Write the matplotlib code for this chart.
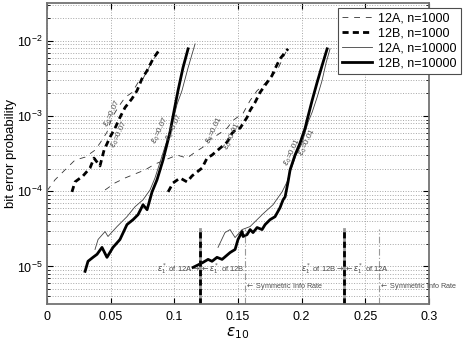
import numpy as np
import matplotlib
matplotlib.use("Agg")
import matplotlib.pyplot as plt

plt.rcParams['font.family'] = ['Liberation Sans', 'DejaVu Sans']
plt.rcParams['mathtext.fontset'] = 'dejavusans'

""" Data (read off the picture) """
# eps0 = 0.07 group
l_a1000_x = [0, 0.0063, 0.0141, 0.0220, 0.0299, 0.0377, 0.0416, 0.0471, 0.0511, 0.0558,
             0.0613, 0.0668, 0.0715, 0.0754, 0.0809, 0.0864, 0.0888]
l_a1000_y = [1.01e-4, 1.42e-4, 1.92e-4, 2.60e-4, 2.84e-4, 3.52e-4, 4.36e-4, 6.10e-4, 9.6e-4, 1.30e-3,
             1.77e-3, 2.06e-3, 2.79e-3, 3.15e-3, 4.68e-3, 6.73e-3, 7.84e-3]

l_b1000_x = [0.0196, 0.0220, 0.0283, 0.0338, 0.0369, 0.0393, 0.0416, 0.0448, 0.0495, 0.0534,
             0.0573, 0.0613, 0.0668, 0.0707, 0.0746, 0.0786, 0.0833, 0.0888]
l_b1000_y = [9.8e-5, 1.33e-4, 1.60e-4, 2.04e-4, 2.76e-4, 2.44e-4, 2.17e-4, 3.52e-4, 5.24e-4, 6.89e-4,
             9.6e-4, 1.30e-3, 1.71e-3, 2.18e-3, 3.15e-3, 4.02e-3, 5.78e-3, 7.84e-3]

l_a10000_x = [0.0377, 0.0401, 0.0456, 0.0479, 0.0550, 0.0628, 0.0691, 0.0754, 0.0809, 0.0848,
              0.0888, 0.0943, 0.0990, 0.1021, 0.1060, 0.1108, 0.1163]
l_a10000_y = [1.68e-5, 2.28e-5, 2.91e-5, 2.50e-5, 3.39e-5, 4.59e-5, 6.22e-5, 7.69e-5, 1.04e-4, 1.50e-4,
              2.44e-4, 4.78e-4, 8.77e-4, 1.43e-3, 2.18e-3, 4.40e-3, 9.13e-3]

l_b10000_x = [0.0299, 0.0322, 0.0361, 0.0393, 0.0432, 0.0471, 0.0518, 0.0573, 0.0628, 0.0676,
              0.0715, 0.0754, 0.0786, 0.0825, 0.0864, 0.0911, 0.0966, 0.1006, 0.1029, 0.1068, 0.1108]
l_b10000_y = [8.6e-6, 1.17e-5, 1.32e-5, 1.45e-5, 1.79e-5, 1.32e-5, 1.79e-5, 2.28e-5, 3.60e-5, 4.19e-5,
              4.88e-5, 6.61e-5, 5.68e-5, 9.8e-5, 1.42e-4, 2.60e-4, 6.10e-4, 1.38e-3, 2.18e-3, 4.40e-3, 7.84e-3]

# eps0 = 0.01 group
r_a1000_x = [0.0456, 0.0534, 0.0613, 0.0691, 0.0770, 0.0848, 0.0927, 0.1021, 0.1100, 0.1163,
             0.1225, 0.1265, 0.1335, 0.1414, 0.1461, 0.1540, 0.1595, 0.1650, 0.1697, 0.1752,
             0.1807, 0.1854, 0.1893]
r_a1000_y = [1.04e-4, 1.29e-4, 1.50e-4, 1.70e-4, 1.92e-4, 2.30e-4, 2.60e-4, 3.03e-4, 2.76e-4, 3.31e-4,
             3.86e-4, 4.78e-4, 5.56e-4, 6.89e-4, 8.77e-4, 1.09e-3, 1.61e-3, 2.18e-3, 2.55e-3, 3.24e-3,
             4.02e-3, 5.96e-3, 8.09e-3]

r_b1000_x = [0.0951, 0.0990, 0.1045, 0.1100, 0.1139, 0.1178, 0.1218, 0.1257, 0.1296, 0.1359,
             0.1414, 0.1453, 0.1493, 0.1516, 0.1571, 0.1595, 0.1634, 0.1673, 0.1728, 0.1767,
             0.1791, 0.1830, 0.1893]
r_b1000_y = [9.8e-5, 1.29e-4, 1.50e-4, 1.33e-4, 1.60e-4, 1.80e-4, 2.04e-4, 2.76e-4, 3.03e-4, 3.74e-4,
             4.50e-4, 5.90e-4, 6.89e-4, 6.89e-4, 9.6e-4, 1.19e-3, 1.52e-3, 2.06e-3, 2.79e-3, 3.45e-3,
             4.27e-3, 5.78e-3, 7.84e-3]

r_a10000_x = [0.1343, 0.1398, 0.1438, 0.1477, 0.1532, 0.1595, 0.1650, 0.1697, 0.1775, 0.1846,
              0.1885, 0.1909, 0.1956, 0.2003, 0.2050, 0.2082, 0.2121, 0.2160, 0.2192, 0.2223]
r_a10000_y = [1.79e-5, 2.82e-5, 3.09e-5, 2.42e-5, 3.09e-5, 3.39e-5, 4.19e-5, 5.02e-5, 6.61e-5, 9.8e-5,
              1.33e-4, 1.80e-4, 3.03e-4, 4.36e-4, 8.26e-4, 1.12e-3, 1.77e-3, 2.96e-3, 5.12e-3, 7.84e-3]

r_b10000_x = [0.1147, 0.1178, 0.1225, 0.1265, 0.1296, 0.1335, 0.1375, 0.1438, 0.1477, 0.1500,
              0.1532, 0.1540, 0.1571, 0.1595, 0.1618, 0.1650, 0.1689, 0.1713, 0.1752, 0.1791,
              0.1830, 0.1854, 0.1870, 0.1893, 0.1909, 0.1948, 0.1987, 0.2027, 0.2042, 0.2082,
              0.2121, 0.2160, 0.2200]
r_b10000_y = [9.7e-6, 1.03e-5, 1.13e-5, 1.24e-5, 1.17e-5, 1.32e-5, 1.24e-5, 1.53e-5, 1.68e-5, 2.28e-5,
              2.91e-5, 2.50e-5, 2.65e-5, 3.09e-5, 2.82e-5, 3.29e-5, 3.09e-5, 3.60e-5, 4.19e-5, 4.59e-5,
              6.04e-5, 7.69e-5, 8.43e-5, 1.33e-4, 1.92e-4, 3.03e-4, 4.36e-4, 6.89e-4, 8.77e-4, 1.61e-3,
              2.79e-3, 4.68e-3, 7.84e-3]

# thresholds
eps1_left = 0.1202
eps1_right = 0.2333
sym_left = 0.1555
sym_right = 0.2608
line_top = 3.1e-5

# eps0 labels: x, y, text
eps0_lab_x = [0.0518, 0.0573, 0.0888, 0.0998, 0.1320, 0.1461, 0.1932, 0.2050]
eps0_lab_y = [1.09e-3, 5.7e-4, 6.5e-4, 7.1e-4, 6.5e-4, 5.4e-4, 3.3e-4, 4.5e-4]
eps0_lab_t = ['0.07', '0.07', '0.07', '0.07', '0.01', '0.01', '0.01', '0.01']

legend_labels = ['12A, n=1000', '12B, n=1000', '12A, n=10000', '12B, n=10000']

""" Plotting """
fig = plt.figure(figsize=(4.63, 3.43), dpi=100)
ax = fig.add_axes([47/463, 39/343, 382/463, 300.7/343])

thin_dash = dict(color='0.2', lw=0.6, dashes=(7, 7))
thick_dash = dict(color='black', lw=2.0, dashes=(2.2, 1.5))
thin_solid = dict(color='0.25', lw=0.6)
thick_solid = dict(color='black', lw=2.0)

h1, = ax.semilogy(l_a1000_x, l_a1000_y, **thin_dash)
h2, = ax.semilogy(l_b1000_x, l_b1000_y, **thick_dash)
h3, = ax.semilogy(l_a10000_x, l_a10000_y, **thin_solid)
h4, = ax.semilogy(l_b10000_x, l_b10000_y, **thick_solid)
ax.semilogy(r_a1000_x, r_a1000_y, **thin_dash)
ax.semilogy(r_b1000_x, r_b1000_y, **thick_dash)
ax.semilogy(r_a10000_x, r_a10000_y, **thin_solid)
ax.semilogy(r_b10000_x, r_b10000_y, **thick_solid)

ymin, ymax = 10**-5.5, 10**-1.5
for xv in [eps1_left, eps1_right]:
    ax.plot([xv, xv], [ymin, line_top], color='0.6', lw=2.0)
    ax.plot([xv, xv], [ymin, line_top], color='black', lw=2.0, dashes=(2.2, 1.2))
for xv in [sym_left, sym_right]:
    ax.plot([xv, xv], [ymin, line_top], color='0.6', lw=0.8, dashes=(6, 2, 1, 2))

fs_small = 5.5
tcol = '0.3'
ax.text(eps1_left, 9.3e-6, r'$\varepsilon_1^*$ of 12A$\rightarrow$', ha='right', va='center',
        fontsize=fs_small, color=tcol)
ax.text(eps1_left, 9.3e-6, r'$\leftarrow\varepsilon_1^*$ of 12B', ha='left', va='center',
        fontsize=fs_small, color=tcol)
ax.text(eps1_right, 9.3e-6, r'$\varepsilon_1^*$ of 12B$\rightarrow$', ha='right', va='center',
        fontsize=fs_small, color=tcol)
ax.text(eps1_right, 9.3e-6, r'$\leftarrow\varepsilon_1^*$ of 12A', ha='left', va='center',
        fontsize=fs_small, color=tcol)
ax.text(sym_left, 5.4e-6, r'$\leftarrow$ Symmetric Info Rate', ha='left', va='center',
        fontsize=fs_small - 0.3, color=tcol)
ax.text(sym_right, 5.4e-6, r'$\leftarrow$ Symmetric Info Rate', ha='left', va='center',
        fontsize=fs_small - 0.3, color=tcol)

for xv, yv, t in zip(eps0_lab_x, eps0_lab_y, eps0_lab_t):
    ax.text(xv, yv, r'$\varepsilon_0$=' + t, rotation=65, ha='center', va='center',
            fontsize=fs_small + 0.3, color=tcol, rotation_mode='anchor')

ax.set_xlim(0, 0.3)
ax.set_ylim(ymin, ymax)
ax.set_xticks([0, 0.05, 0.1, 0.15, 0.2, 0.25, 0.3])
ax.set_xticklabels(['0', '0.05', '0.1', '0.15', '0.2', '0.25', '0.3'])
ax.set_yticks([1e-5, 1e-4, 1e-3, 1e-2])
ax.tick_params(which='both', direction='in', top=True, right=True, labelsize=9, pad=5)
ax.tick_params(axis='y', which='major', pad=3)
ax.tick_params(which='major', length=4)
ax.tick_params(which='minor', length=2)
ax.grid(True, which='major', color='0.65', linestyle=':', lw=0.7)
ax.grid(True, which='minor', axis='y', color='0.65', linestyle=':', lw=0.7)
for s in ax.spines.values():
    s.set_color('0.45')
    s.set_linewidth(1.3)

ax.set_xlabel(r'$\varepsilon_{10}$', fontsize=11, labelpad=2)
ax.set_ylabel('bit error probability', fontsize=9.5)
ax.yaxis.set_label_coords(-0.078, 0.5)

leg = ax.legend([h1, h2, h3, h4], legend_labels, loc='upper right',
                bbox_to_anchor=(461/463, 335/343), bbox_transform=fig.transFigure,
                fontsize=9, fancybox=False, framealpha=1, edgecolor='0.3',
                handlelength=2.4, borderpad=0.35, labelspacing=0.25, borderaxespad=0,
                handletextpad=0.5)
leg.get_frame().set_linewidth(0.8)

fig.savefig('out.png', dpi=100)
